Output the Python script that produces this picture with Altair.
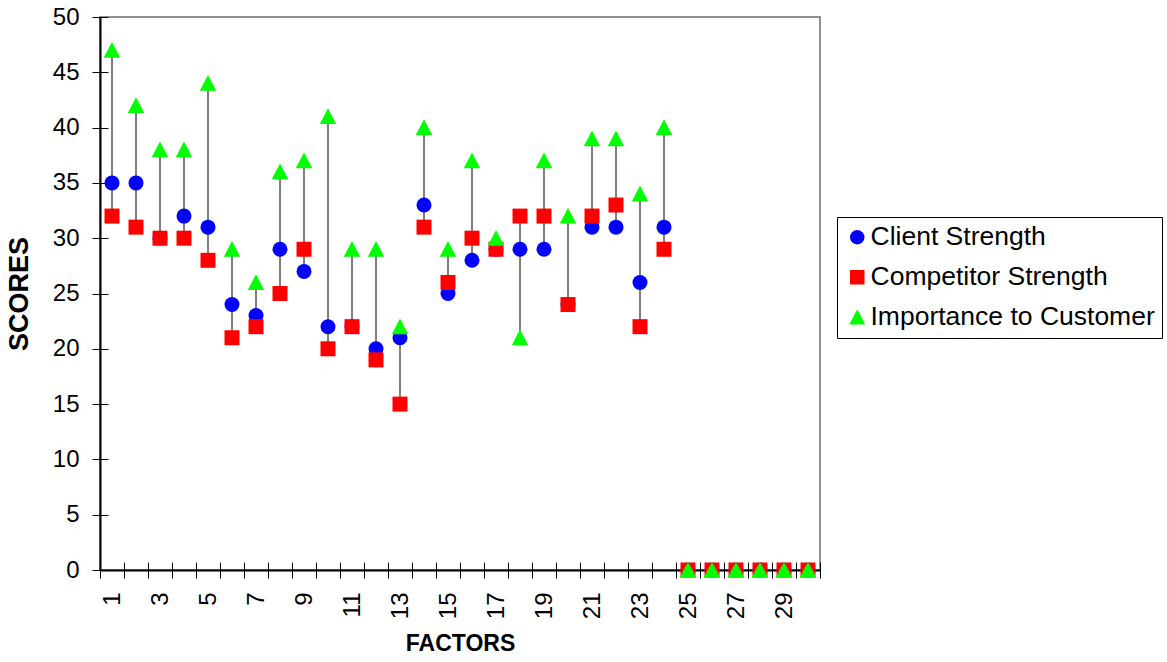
import altair as alt
import pandas as pd

factors = list(range(1, 31))
client = [35, 35, 30, 32, 31, 24, 23, 29, 27, 22, 22, 20, 21, 33, 25,
          28, 29, 29, 29, 24, 31, 31, 26, 31, 0, 0, 0, 0, 0, 0]
competitor = [32, 31, 30, 30, 28, 21, 22, 25, 29, 20, 22, 19, 15, 31, 26,
              30, 29, 32, 32, 24, 32, 33, 22, 29, 0, 0, 0, 0, 0, 0]
importance = [47, 42, 38, 38, 44, 29, 26, 36, 37, 41, 29, 29, 22, 40, 29,
              37, 30, 21, 37, 32, 39, 39, 34, 40, 0, 0, 0, 0, 0, 0]
series_names = ["Client Strength", "Competitor Strength", "Importance to Customer"]
series_colors = ["#0000FF", "#FF0000", "#00FF00"]
series_shapes = ["circle", "square", "M-1.1,1L1.1,1L0,-1.1Z"]
y_ticks = list(range(0, 51, 5))

wide = pd.DataFrame({
    "Factor": factors,
    series_names[0]: client,
    series_names[1]: competitor,
    series_names[2]: importance,
})
wide["lo"] = wide[series_names].min(axis=1)
wide["hi"] = wide[series_names].max(axis=1)
long = wide.melt(id_vars=["Factor"], value_vars=series_names,
                 var_name="Series", value_name="Score")

FONT = "Liberation Sans"
xscale = alt.Scale(type="band", paddingInner=0, paddingOuter=0)
yscale = alt.Scale(domain=[0, 50], nice=False)

legend = alt.Legend(
    title=None, orient="none", legendX=737, legendY=200,
    strokeColor="black", fillColor="white", padding=7,
    labelFont=FONT, labelFontSize=26.5, labelColor="black",
    symbolSize=210, symbolStrokeWidth=0, rowPadding=13, labelOffset=0,
    labelLimit=400,
)

# rules layer carries the inner half of the cross ticks
rules = alt.Chart(wide).mark_rule(color="black", strokeWidth=1).encode(
    x=alt.X("Factor:O", scale=xscale,
            axis=alt.Axis(orient="bottom", offset=-8, tickSize=8, labels=False,
                          domain=False, title=None, tickBand="extent",
                          tickColor="black", grid=False)),
    y=alt.Y("lo:Q", scale=yscale,
            axis=alt.Axis(orient="left", offset=-8, tickSize=8, labels=False,
                          domain=False, title=None, values=y_ticks,
                          tickColor="black", grid=False)),
    y2="hi:Q",
)

points = alt.Chart(long).mark_point(filled=True, opacity=1, size=225, strokeWidth=0).encode(
    x=alt.X("Factor:O", scale=xscale,
            axis=alt.Axis(orient="bottom", tickSize=8, tickBand="extent",
                          tickColor="black", domainColor="black", domainWidth=2,
                          labelAngle=-90, labelFontSize=24, labelFont=FONT,
                          labelColor="black", labelPadding=14, labelOverlap=False,
                          labelExpr="datum.value % 2 == 1 ? datum.label : ''",
                          title="FACTORS", titleFont=FONT, titleFontSize=23,
                          titleFontWeight="bold", titleColor="black",
                          titlePadding=14, grid=False)),
    y=alt.Y("Score:Q", scale=yscale,
            axis=alt.Axis(orient="left", tickSize=8, values=y_ticks,
                          tickColor="black", domainColor="black", domainWidth=2,
                          labelFontSize=24, labelFont=FONT, labelColor="black",
                          labelPadding=13, title="SCORES", titleFont=FONT,
                          titleFontSize=27, titleFontWeight="bold",
                          titleColor="black", titlePadding=19, grid=False)),
    color=alt.Color("Series:N",
                    scale=alt.Scale(domain=series_names, range=series_colors),
                    legend=legend),
    shape=alt.Shape("Series:N",
                    scale=alt.Scale(domain=series_names, range=series_shapes),
                    legend=legend),
)

chart = alt.layer(rules, points).resolve_axis(
    x="independent", y="independent"
).properties(
    width=720,
    height=553,
    background="white",
    autosize=alt.AutoSizeParams(type="none"),
    padding={"left": 100, "top": 17, "right": 347, "bottom": 92},
).configure_view(
    stroke="#909090", strokeWidth=2
)

chart.save("out.html", embed_options={"renderer": "svg", "actions": False})
